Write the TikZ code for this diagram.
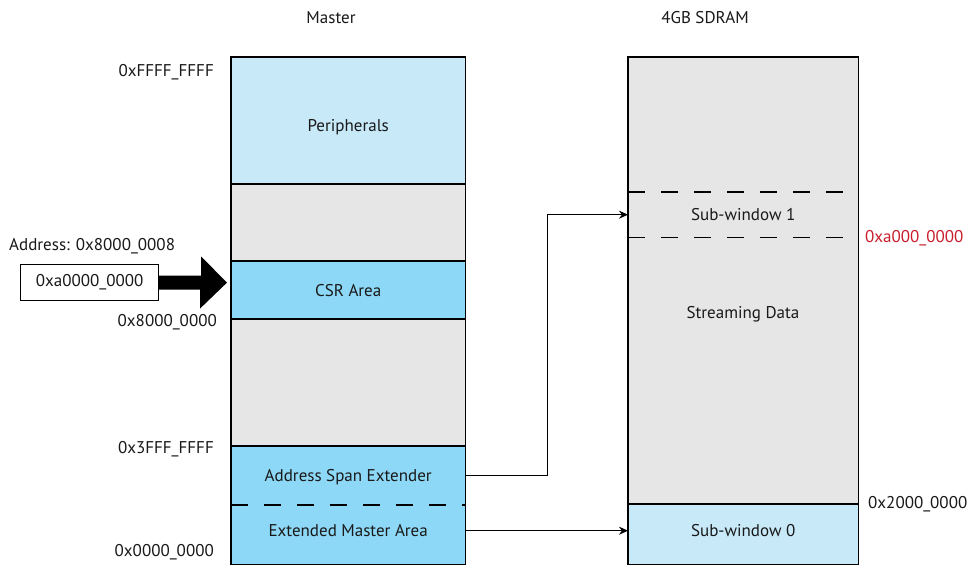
\documentclass[tikz,border=0pt]{standalone}
\usepackage{fontspec}
\setmainfont{PT Sans}
\usetikzlibrary{arrows.meta,calc}
\definecolor{lblue}{RGB}{199,233,248}
\definecolor{mblue}{RGB}{141,216,246}
\definecolor{lgrey}{RGB}{230,230,230}
\definecolor{addrred}{RGB}{200,30,45}
\begin{document}
\begin{tikzpicture}[x=1pt,y=1pt,
  every node/.style={font=\fontsize{17}{19}\selectfont, text=black!90},
  region/.style={anchor=north west, inner sep=0pt, minimum width=234pt},
  sregion/.style={anchor=north west, inner sep=0pt, minimum width=230pt},
  boxline/.style={line width=1.3pt, draw=black},
  dashline/.style={line width=1.3pt, draw=black, dash pattern=on 17pt off 16pt},
  conn/.style={line width=1.2pt, -{Stealth[length=9pt,width=8pt]}},
  lbl/.style={inner sep=0pt}
]
\useasboundingbox (0,0) rectangle (973,-567);
\fill[white] (0,0) rectangle (973,-567);

% Master column
\node[region, fill=lblue, minimum height=127pt, text height=26pt, text depth=4pt] (periph) at (231,-57) {Peripherals};
\node[region, fill=lgrey, minimum height=77pt] (g1) at (231,-184) {};
\node[region, fill=mblue, minimum height=58pt] (csr) at (231,-261) {CSR Area};
\node[region, fill=lgrey, minimum height=127pt] (g2) at (231,-319) {};
\node[region, fill=mblue, minimum height=59pt, text height=16pt, text depth=4pt] (ase) at (231,-446) {Address Span Extender};
\node[region, fill=mblue, minimum height=59pt, text height=12pt, text depth=8pt] (ema) at (231,-505) {Extended Master Area};
\draw[boxline] (periph.north west) rectangle (ema.south east);
\draw[boxline] (g1.north west) -- (g1.north east);
\draw[boxline] (csr.north west) -- (csr.north east);
\draw[boxline] (g2.north west) -- (g2.north east);
\draw[boxline] (ase.north west) -- (ase.north east);
\draw[dashline] (ema.north west) -- (ema.north east);

% SDRAM column
\node[sregion, fill=lgrey, minimum height=447pt] (sdram) at (628,-57) {};
\node[sregion, minimum height=45pt] (sw1) at (628,-192) {Sub-window 1};
\node[lbl] (stream) at (743,-314) {Streaming Data};
\node[sregion, fill=lblue, minimum height=60pt, text height=12pt, text depth=8pt] (sw0) at (628,-504) {Sub-window 0};
\draw[boxline] (sdram.north west) rectangle (sw0.south east);
\draw[boxline] (sw0.north west) -- (sw0.north east);
\draw[dashline] (sw1.north west) -- (sw1.north east);
\draw[dashline] (sw1.south west) -- (sw1.south east);

% titles
\node[lbl] (tmaster) at (331,-18) {Master};
\node[lbl] (tsdram) at (705,-18) {4GB SDRAM};

% address labels
\node[lbl, anchor=east] (aFFFF) at (214,-72) {0xFFFF\_FFFF};
\node[lbl, anchor=west] (aReq) at (9,-246) {Address: 0x8000\_0008};
\node[lbl, anchor=east] (a8000) at (217,-322) {0x8000\_0000};
\node[lbl, anchor=east] (a3FFF) at (214,-449) {0x3FFF\_FFFF};
\node[lbl, anchor=east] (a0000) at (214,-552) {0x0000\_0000};
\node[lbl, anchor=west, text=addrred] (aA000) at (865,-238) {0xa000\_0000};
\node[lbl, anchor=west] (a2000) at (868,-504) {0x2000\_0000};

% address box and thick arrow
\node[draw, line width=1.2pt, minimum width=138pt, minimum height=36pt, inner sep=0pt, anchor=north west] (addr) at (20,-264) {0xa0000\_0000};
\fill[black] ([yshift=7pt]addr.east) -- ++(42pt,0) -- ++(0,19pt)
  -- ([xshift=-4pt]addr.east -| csr.west) -- ++(-27pt,-26pt) -- ++(0,19pt)
  -- ([yshift=-7pt]addr.east) -- cycle;

% connectors
\draw[conn] (ase.east) -- ++(82pt,0) |- (sw1.west);
\draw[conn] ([yshift=4pt]ema.east) -- ([yshift=4pt]ema.east -| sw0.west);
\end{tikzpicture}
\end{document}
